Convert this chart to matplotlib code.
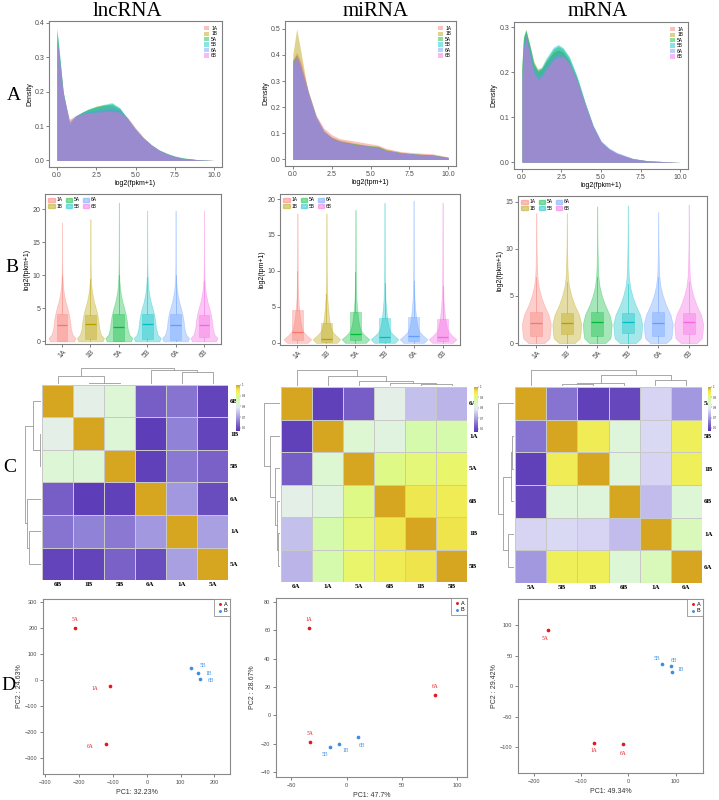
import numpy as np
import matplotlib.pyplot as plt
from matplotlib.colors import LinearSegmentedColormap
from matplotlib.patches import Patch

plt.rcParams['font.family'] = ['Liberation Sans', 'DejaVu Sans']

samples = ["1A", "1B", "5A", "5B", "6A", "6B"]
hue = ["#F8766D", "#B79F00", "#00BA38", "#00BFC4", "#619CFF", "#F564E3"]
rna_names = ["lncRNA", "miRNA", "mRNA"]
unit_labels = ["log2(fpkm+1)", "log2(tpm+1)", "log2(fpkm+1)"]

# ---- A: density curves ----
lnc_x = [0, 0.1, 0.4, 0.8, 1.2, 1.6, 2.0, 2.5, 3.0, 3.5, 4.0, 4.5, 5.0, 5.5, 6.0, 6.5, 7.0, 7.5, 8.0, 9.0, 10.0]
lnc_dens = {
    "1A": [0.34, 0.31, 0.19, 0.12, 0.13, 0.135, 0.14, 0.145, 0.148, 0.15, 0.145, 0.125, 0.095, 0.068, 0.046, 0.03, 0.019, 0.011, 0.006, 0.002, 0.0],
    "1B": [0.37, 0.33, 0.2, 0.11, 0.13, 0.14, 0.148, 0.158, 0.162, 0.16, 0.148, 0.12, 0.09, 0.064, 0.044, 0.029, 0.019, 0.012, 0.007, 0.002, 0.0],
    "5A": [0.385, 0.34, 0.2, 0.105, 0.128, 0.14, 0.148, 0.155, 0.16, 0.165, 0.152, 0.122, 0.09, 0.065, 0.046, 0.031, 0.021, 0.013, 0.008, 0.002, 0.0],
    "5B": [0.38, 0.34, 0.2, 0.105, 0.13, 0.14, 0.15, 0.157, 0.163, 0.168, 0.153, 0.12, 0.089, 0.064, 0.045, 0.03, 0.02, 0.012, 0.007, 0.002, 0.0],
    "6A": [0.35, 0.32, 0.195, 0.115, 0.13, 0.138, 0.143, 0.148, 0.152, 0.155, 0.148, 0.123, 0.092, 0.066, 0.046, 0.03, 0.019, 0.011, 0.006, 0.002, 0.0],
    "6B": [0.36, 0.32, 0.195, 0.11, 0.128, 0.135, 0.138, 0.14, 0.142, 0.143, 0.14, 0.12, 0.09, 0.065, 0.045, 0.03, 0.019, 0.011, 0.006, 0.002, 0.0],
}
mi_x = [0, 0.25, 0.5, 1.0, 1.5, 2.0, 2.5, 3.0, 4.0, 5.0, 5.5, 6.0, 7.0, 8.0, 9.0, 10.0]
mi_dens = {
    "1A": [0.38, 0.41, 0.38, 0.26, 0.17, 0.12, 0.095, 0.08, 0.07, 0.06, 0.055, 0.042, 0.03, 0.025, 0.022, 0.01],
    "1B": [0.40, 0.50, 0.42, 0.25, 0.15, 0.105, 0.085, 0.075, 0.062, 0.052, 0.05, 0.04, 0.027, 0.022, 0.018, 0.008],
    "5A": [0.38, 0.40, 0.36, 0.26, 0.165, 0.11, 0.085, 0.07, 0.06, 0.052, 0.05, 0.035, 0.025, 0.02, 0.018, 0.008],
    "5B": [0.37, 0.39, 0.35, 0.25, 0.16, 0.105, 0.08, 0.07, 0.058, 0.05, 0.045, 0.035, 0.025, 0.02, 0.016, 0.007],
    "6A": [0.36, 0.38, 0.35, 0.25, 0.16, 0.105, 0.08, 0.068, 0.056, 0.05, 0.045, 0.035, 0.026, 0.02, 0.016, 0.007],
    "6B": [0.37, 0.40, 0.37, 0.26, 0.165, 0.11, 0.085, 0.072, 0.058, 0.05, 0.045, 0.035, 0.025, 0.02, 0.016, 0.007],
}
m_x = [0, 0.1, 0.25, 0.5, 0.75, 1.0, 1.25, 1.5, 2.0, 2.3, 2.6, 3.0, 3.5, 4.0, 4.5, 5.0, 5.5, 6.0, 7.0, 8.0, 10.0]
m_dens = {
    "1A": [0.2, 0.27, 0.29, 0.255, 0.215, 0.2, 0.205, 0.22, 0.245, 0.25, 0.245, 0.225, 0.183, 0.128, 0.079, 0.045, 0.029, 0.019, 0.008, 0.003, 0.0],
    "1B": [0.21, 0.275, 0.296, 0.262, 0.225, 0.208, 0.21, 0.223, 0.245, 0.25, 0.245, 0.225, 0.182, 0.127, 0.078, 0.044, 0.028, 0.018, 0.007, 0.003, 0.0],
    "5A": [0.22, 0.28, 0.295, 0.26, 0.22, 0.203, 0.208, 0.225, 0.252, 0.258, 0.252, 0.232, 0.188, 0.132, 0.081, 0.046, 0.03, 0.02, 0.008, 0.003, 0.0],
    "5B": [0.21, 0.275, 0.292, 0.258, 0.22, 0.205, 0.212, 0.23, 0.256, 0.262, 0.255, 0.235, 0.19, 0.133, 0.082, 0.046, 0.03, 0.02, 0.008, 0.003, 0.0],
    "6A": [0.19, 0.26, 0.285, 0.25, 0.21, 0.195, 0.2, 0.215, 0.238, 0.243, 0.24, 0.222, 0.182, 0.13, 0.082, 0.048, 0.032, 0.022, 0.009, 0.003, 0.0],
    "6B": [0.18, 0.25, 0.28, 0.24, 0.2, 0.185, 0.19, 0.205, 0.228, 0.235, 0.235, 0.22, 0.18, 0.128, 0.08, 0.046, 0.03, 0.02, 0.008, 0.003, 0.0],
}
dens_x = [lnc_x, mi_x, m_x]
dens_y = [lnc_dens, mi_dens, m_dens]
dens_ylim = [(-0.019, 0.405), (-0.025, 0.53), (-0.015, 0.312)]
dens_yticks = [[0, 0.1, 0.2, 0.3, 0.4], [0, 0.1, 0.2, 0.3, 0.4, 0.5], [0, 0.1, 0.2, 0.3]]

# ---- B: violin profiles and box stats ----
lnc_vy = [0, 0.5, 1, 2, 3, 4, 5, 6, 7, 8, 9, 10, 12, 15]
lnc_vw = [0.9, 1.0, 0.78, 0.65, 0.6, 0.52, 0.4, 0.26, 0.16, 0.09, 0.05, 0.03, 0.015, 0.008]
mi_vy = [0, 0.5, 1, 1.5, 2, 3, 4, 5, 6, 8, 10, 15]
mi_vw = [0.75, 1.0, 0.7, 0.45, 0.33, 0.22, 0.16, 0.11, 0.07, 0.04, 0.025, 0.01]
m_vy = [0, 0.5, 1, 2, 3, 4, 5, 6, 7, 8, 10, 12]
m_vw = [0.55, 0.9, 0.95, 1.0, 0.85, 0.55, 0.32, 0.16, 0.08, 0.05, 0.02, 0.01]
violin_y = [lnc_vy, mi_vy, m_vy]
violin_w = [lnc_vw, mi_vw, m_vw]
violin_max = [[18, 18.5, 21, 19.8, 19.8, 19.8],
              [18, 18, 18.5, 19.5, 19.8, 19.5],
              [13.8, 13.8, 14.5, 14.6, 13.9, 14.7]]
box_q1 = [[0.1, 0.3, 0.1, 0.3, 0.2, 0.6], [0.4, 0.1, 0.4, 0.1, 0.3, 0.2], [0.8, 1.0, 0.8, 1.1, 0.8, 1.0]]
box_med = [[2.4, 2.6, 2.2, 2.6, 2.4, 2.5], [1.5, 0.5, 1.2, 0.8, 0.9, 0.8], [2.1, 2.1, 2.2, 2.2, 2.1, 2.2]]
box_q3 = [[4.1, 4.0, 4.1, 4.1, 4.2, 4.0], [4.5, 2.8, 4.3, 3.4, 3.6, 3.3], [3.3, 3.2, 3.3, 3.2, 3.3, 3.2]]
box_whi = [[10.0, 9.5, 10.0, 9.8, 10.0, 9.2], [10.0, 6.8, 9.8, 8.3, 8.6, 7.9], [7.0, 6.5, 7.0, 6.3, 7.0, 6.5]]
violin_ylim = [(-0.4, 22.3), (-0.3, 20.7), (-0.2, 15.6)]
violin_yticks = [[0, 5, 10, 15, 20], [0, 5, 10, 15, 20], [0, 5, 10, 15]]

# ---- C: correlation heatmaps ----
lnc_order = ["6B", "1B", "5B", "6A", "1A", "5A"]
lnc_corr = [[1.00, 0.81, 0.83, 0.625, 0.65, 0.59],
            [0.81, 1.00, 0.83, 0.58, 0.665, 0.59],
            [0.83, 0.83, 1.00, 0.585, 0.655, 0.63],
            [0.625, 0.58, 0.585, 1.00, 0.69, 0.60],
            [0.65, 0.665, 0.655, 0.69, 1.00, 0.70],
            [0.59, 0.59, 0.63, 0.60, 0.70, 1.00]]
lnc_link = [(1, 2, 0.05), (0, 6, 0.52), (4, 5, 0.74), (3, 8, 0.92), (7, 9, 1.0)]
mi_order = ["6A", "1A", "5A", "6B", "1B", "5B"]
mi_corr = [[1.00, 0.585, 0.625, 0.81, 0.74, 0.725],
           [0.585, 1.00, 0.835, 0.82, 0.87, 0.87],
           [0.625, 0.835, 1.00, 0.90, 0.91, 0.92],
           [0.81, 0.82, 0.90, 1.00, 0.955, 0.945],
           [0.74, 0.87, 0.91, 0.955, 1.00, 0.96],
           [0.725, 0.87, 0.92, 0.945, 0.96, 1.00]]
mi_link = [(4, 5, 0.15), (3, 6, 0.21), (2, 7, 0.32), (1, 8, 0.64), (0, 9, 1.0)]
m_order = ["5A", "5B", "1B", "6B", "1A", "6A"]
m_corr = [[1.00, 0.65, 0.585, 0.595, 0.765, 0.69],
          [0.65, 1.00, 0.945, 0.825, 0.77, 0.94],
          [0.585, 0.945, 1.00, 0.825, 0.765, 0.94],
          [0.595, 0.825, 0.825, 1.00, 0.735, 0.83],
          [0.765, 0.77, 0.765, 0.735, 1.00, 0.855],
          [0.69, 0.94, 0.94, 0.83, 0.855, 1.00]]
m_link = [(1, 2, 0.12), (3, 6, 0.17), (4, 5, 0.41), (7, 8, 0.69), (0, 9, 1.0)]
heat_order = [lnc_order, mi_order, m_order]
heat_corr = [lnc_corr, mi_corr, m_corr]
heat_link = [lnc_link, mi_link, m_link]
cbar_ticks = [1, 0.9, 0.8, 0.7, 0.6]

# ---- D: PCA ----
pca_names = ["1A", "5A", "6A", "1B", "5B", "6B"]
pca_group = ["A", "A", "A", "B", "B", "B"]
lnc_pc1 = [-108, -212, -122, 150, 132, 157]
lnc_pc2 = [-23, 200, -248, 25, 45, 3]
mi_pc1 = [-34, -33, 80, -7, -15, 10]
mi_pc2 = [61.5, -19, 14.5, -20, -22, -15.5]
m_pc1 = [-73, -170, -12, 93, 72, 90]
m_pc2 = [-93, 93, -95, 23, 37, 33]
pc1 = [lnc_pc1, mi_pc1, m_pc1]
pc2 = [lnc_pc2, mi_pc2, m_pc2]
pc1_label = ["PC1: 32.23%", "PC1: 47.7%", "PC1: 49.34%"]
pc2_label = ["PC2 : 24.63%", "PC2 : 28.67%", "PC2 : 29.42%"]

W, H = 719, 800
fig = plt.figure(figsize=(W / 100, H / 100), dpi=100)


def px_axes(l, t, r, b):
    return fig.add_axes([l / W, 1 - b / H, (r - l) / W, (b - t) / H])


def style(ax, col="#7f7f7f", fs=5):
    for s in ax.spines.values():
        s.set_color(col)
        s.set_linewidth(0.8)
    ax.tick_params(labelsize=fs, colors="#4d4d4d", length=2, width=0.5, pad=1.5)


serif = ["Liberation Serif", "DejaVu Serif"]
group_col = {"A": "#e3181c", "B": "#3c8ee0"}

title_x = [127, 376, 598]
for i, name in enumerate(rna_names):
    fig.text(title_x[i] / W, 1 - 11 / H, name, family=serif, fontsize=15, ha="center", va="center")
for lab, (x, y) in zip("ABCD", [(14, 96), (12, 267), (10, 467), (8, 686)]):
    fig.text(x / W, 1 - y / H, lab, family=serif, fontsize=14, ha="center", va="center")

# A
a_box = [(49, 21, 222, 167), (285, 21, 456, 166), (514, 22, 688, 169)]
for i in range(3):
    ax = px_axes(*a_box[i])
    for s, c in zip(samples, hue):
        ax.fill_between(dens_x[i], dens_y[i][s], color=c, alpha=0.45, lw=0)
    ax.set_xlim(-0.5, 10.5)
    ax.set_ylim(*dens_ylim[i])
    ax.set_xticks([0, 2.5, 5, 7.5, 10])
    ax.set_xticklabels(["0.0", "2.5", "5.0", "7.5", "10.0"])
    ax.set_yticks(dens_yticks[i])
    ax.set_yticklabels(["0.0" if t == 0 else f"{t:g}" for t in dens_yticks[i]])
    ax.set_xlabel(unit_labels[i], fontsize=5, labelpad=0.5)
    ax.set_ylabel("Density", fontsize=5, labelpad=1)
    style(ax)
    handles = [Patch(facecolor=c, alpha=0.45, label=s) for s, c in zip(samples, hue)]
    ax.legend(handles=handles, loc="upper right", fontsize=3.5, frameon=False,
              handlelength=1.0, handleheight=1.0, labelspacing=0.1, handletextpad=0.4,
              borderaxespad=0.6)

# B
b_box = [(45, 194, 221, 344), (280, 194, 460, 345), (518, 196, 707, 345)]
for i in range(3):
    ax = px_axes(*b_box[i])
    pos = np.arange(1, 7)
    vstats = []
    for j in range(6):
        coords = violin_y[i] + [violin_max[i][j]]
        vals = violin_w[i] + [0.002]
        vstats.append(dict(coords=coords, vals=vals, mean=box_med[i][j], median=box_med[i][j],
                           min=0, max=violin_max[i][j]))
    parts = ax.violin(vstats, positions=pos, widths=0.95, showmeans=False,
                      showextrema=False, showmedians=False)
    for body, c in zip(parts["bodies"], hue):
        body.set_facecolor(c)
        body.set_edgecolor(c)
        body.set_alpha(0.35)
        body.set_linewidth(0.5)
    bstats = [dict(med=box_med[i][j], q1=box_q1[i][j], q3=box_q3[i][j], whislo=0,
                   whishi=box_whi[i][j], fliers=[]) for j in range(6)]
    bp = ax.bxp(bstats, positions=pos, widths=0.38, showcaps=False, showfliers=False,
                patch_artist=True, manage_ticks=False)
    for j, c in enumerate(hue):
        bp["boxes"][j].set_facecolor(c)
        bp["boxes"][j].set_alpha(0.35)
        bp["boxes"][j].set_edgecolor(c)
        bp["boxes"][j].set_linewidth(0.5)
        bp["medians"][j].set_color(c)
        bp["medians"][j].set_linewidth(0.9)
        for w in bp["whiskers"][2 * j:2 * j + 2]:
            w.set_color(c)
            w.set_linewidth(0.5)
            w.set_alpha(0.7)
    ax.set_xlim(0.4, 6.6)
    ax.set_ylim(*violin_ylim[i])
    ax.set_xticks(pos)
    ax.set_xticklabels(samples, rotation=45)
    ax.set_yticks(violin_yticks[i])
    ax.set_ylabel(unit_labels[i], fontsize=5, labelpad=1)
    style(ax)
    handles = [Patch(facecolor=c, edgecolor=c, alpha=0.45, label=s) for s, c in zip(samples, hue)]
    ax.legend(handles=handles, loc="upper left", ncol=3, fontsize=3.5, frameon=False,
              handlelength=1.3, handleheight=1.0, labelspacing=0.3, handletextpad=0.4,
              columnspacing=0.6, borderaxespad=0.3)

# C
cvals = [0.57, 0.63, 0.68, 0.74, 0.79, 0.83, 0.88, 0.93, 0.965, 1.0]
ccols = ["#5a37b5", "#7a62c8", "#9a90dc", "#c4c0ec", "#e8e8f8", "#ddf7d6", "#d4fba0", "#eef560", "#f0e24a", "#d6a621"]
vmin, vmax = 0.57, 1.0
cmap = LinearSegmentedColormap.from_list(
    "corr", [((v - vmin) / (vmax - vmin), c) for v, c in zip(cvals, ccols)])


def dendro_lines(link):
    pos = {k: k + 0.5 for k in range(6)}
    hgt = {k: 0.0 for k in range(6)}
    segs = []
    for n, (a, b, h) in enumerate(link):
        segs.append(([pos[a], pos[a], pos[b], pos[b]], [hgt[a], h, h, hgt[b]]))
        pos[6 + n] = (pos[a] + pos[b]) / 2
        hgt[6 + n] = h
    return segs


h_box = [(42, 385, 228, 580), (281, 387, 467, 582), (515, 387, 702, 583)]
cb_box = [(236, 385, 240, 431), (474, 387, 478, 432), (708, 387, 711, 431)]
for i in range(3):
    l, t, r, b = h_box[i]
    ax = px_axes(l, t, r, b)
    ax.pcolormesh(np.array(heat_corr[i]), cmap=cmap, vmin=vmin, vmax=vmax,
                  edgecolors="#c8c8c8", linewidth=0.6)
    ax.set_xlim(0, 6)
    ax.set_ylim(6, 0)
    ax.set_xticks(np.arange(6) + 0.5)
    ax.set_xticklabels(heat_order[i], family=serif, fontsize=5, fontweight="bold")
    ax.set_yticks(np.arange(6) + 0.5)
    ax.set_yticklabels(heat_order[i], family=serif, fontsize=5, fontweight="bold")
    ax.yaxis.tick_right()
    ax.tick_params(length=0, pad=1.5)
    for s in ax.spines.values():
        s.set_visible(False)
    segs = dendro_lines(heat_link[i])
    axt = px_axes(l, t - 17, r, t - 1)
    axl = px_axes(l - 17, t, l - 1, b)
    for xs, ys in segs:
        axt.plot(xs, ys, color="#9a9a9a", lw=0.6)
        axl.plot(ys, xs, color="#9a9a9a", lw=0.6)
    axt.set_xlim(0, 6)
    axt.set_ylim(0, 1.02)
    axl.set_ylim(6, 0)
    axl.set_xlim(1.02, 0)
    axt.axis("off")
    axl.axis("off")
    cax = px_axes(*cb_box[i])
    grad = np.linspace(vmin, vmax, 100).reshape(-1, 1)
    cax.imshow(grad, cmap=cmap, vmin=vmin, vmax=vmax, aspect="auto", origin="lower",
               extent=[0, 1, vmin, vmax])
    cax.set_xticks([])
    cax.yaxis.tick_right()
    cax.set_yticks(cbar_ticks)
    cax.set_yticklabels([f"{v:g}" for v in cbar_ticks])
    cax.tick_params(labelsize=2.2, length=0.8, width=0.3, pad=0.5, colors="#333333")
    for s in cax.spines.values():
        s.set_visible(False)

# D
d_box = [(43, 599, 230, 774), (276, 598, 467, 777), (518, 599, 703, 773)]
d_xlim = [(-307, 246), (-64, 109), (-234, 158)]
d_ylim = [(-363, 312), (-43.5, 82.8), (-143, 143.5)]
d_xticks = [[-300, -200, -100, 0, 100, 200], [-50, 0, 50, 100], [-200, -100, 0, 100]]
d_yticks = [[-300, -200, -100, 0, 100, 200, 300], [-40, -20, 0, 20, 40, 60, 80], [-100, -50, 0, 50, 100]]
d_ylab_x = [-0.107, -0.105, -0.108]
lab_off = [
    {"1A": (-11, -2), "5A": (0, 6), "6A": (-11, -2), "1B": (8, 0), "5B": (8, 2), "6B": (8, -1)},
    {"1A": (0, 6), "5A": (0, 6), "6A": (0, 6), "1B": (5, -5), "5B": (-4, -6), "6B": (3, -6)},
    {"1A": (0, -6), "5A": (-2, -6), "6A": (0, -7), "1B": (6, 2), "5B": (-4, 4), "6B": (2, 4)},
]
for i in range(3):
    ax = px_axes(*d_box[i])
    for g in ["A", "B"]:
        idx = [k for k in range(6) if pca_group[k] == g]
        ax.scatter([pc1[i][k] for k in idx], [pc2[i][k] for k in idx], s=7,
                   color=group_col[g], label=g, zorder=3, linewidths=0)
    for k, n in enumerate(pca_names):
        ax.annotate(n, (pc1[i][k], pc2[i][k]), xytext=lab_off[i][n], textcoords="offset points",
                    ha="center", va="center", fontsize=4, family=serif,
                    color=group_col[pca_group[k]])
    ax.set_xlim(*d_xlim[i])
    ax.set_ylim(*d_ylim[i])
    ax.set_xticks(d_xticks[i])
    ax.set_yticks(d_yticks[i])
    ax.set_xlabel(pc1_label[i], fontsize=5, labelpad=3, color="#333333")
    ax.set_ylabel(pc2_label[i], fontsize=5, color="#333333")
    ax.yaxis.set_label_coords(d_ylab_x[i], 0.5)
    style(ax, col="#8a8a8a", fs=4)
    ax.tick_params(length=2.5)
    leg = ax.legend(loc="upper right", fontsize=4, frameon=True, fancybox=False,
                    borderaxespad=0, handletextpad=0.2, borderpad=0.5, labelspacing=0.3,
                    markerscale=0.8, handlelength=1.0)
    leg.get_frame().set_edgecolor("#8a8a8a")
    leg.get_frame().set_linewidth(0.7)

fig.savefig("out.png", dpi=100)
